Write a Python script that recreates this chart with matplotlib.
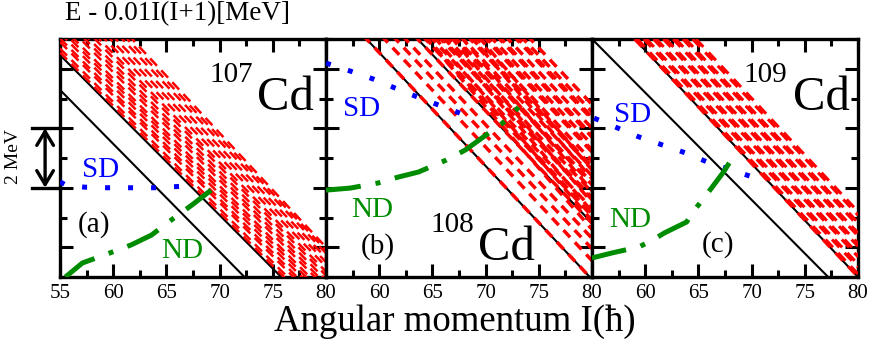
import matplotlib.pyplot as plt
from matplotlib import font_manager
from matplotlib.ticker import MultipleLocator
from matplotlib.transforms import blended_transform_factory

# pick a Times-like font if one is installed
serif = 'DejaVu Serif'
for nome in ['Liberation Serif', 'Times New Roman', 'Nimbus Roman', 'Tinos', 'FreeSerif']:
    try:
        font_manager.findfont(font_manager.FontProperties(family=nome), fallback_to_default=False)
        serif = nome
        break
    except ValueError:
        pass
plt.rcParams['font.family'] = [serif, 'DejaVu Serif']

# axis ranges and ticks
x_min, x_max = 55, 80
y_min, y_max = -1, 7
x_ticks = [55, 60, 65, 70, 75, 80]

# straight bands: energy at I=55 and at I=80
black_a_e55 = [5.29, 6.46]
black_a_e80 = [-3.78, -2.51]
red_a_e55 = [6.55, 6.68, 6.9, 7.02, 7.2, 7.35, 7.48, 7.7, 7.85, 8.0, 8.2, 8.35, 8.55, 8.75, 8.95, 9.2, 9.4, 9.6]
red_a_e80 = [-2.42, -2.3, -2.1, -1.98, -1.82, -1.68, -1.55, -1.38, -1.25, -1.1, -0.95, -0.82, -0.65, -0.5, -0.35, -0.2, -0.1, 0.0]

black_b_e55 = [8.45, 10.25]
black_b_e80 = [-1.08, 0.81]
red_b_e55 = [8.45, 9.1, 9.5, 9.85, 10.25, 10.55, 10.62, 10.8, 10.9, 11.1, 11.17, 11.3, 11.35, 11.6, 11.67, 11.7,
             11.9, 12.0, 12.15, 12.22, 12.4, 12.4, 12.7, 12.77, 12.8, 12.95, 13.1, 13.2, 13.27, 13.5, 13.8,
             13.87, 14.05, 14.3]
red_b_e80 = [-1.08, -0.45, -0.05, 0.3, 0.81, 1.05, 1.12, 1.3, 0.6, 1.6, 1.67, 0.9, 1.85, 2.1, 2.17, 1.2,
             2.4, 1.5, 2.65, 2.72, 2.9, 1.9, 3.2, 3.27, 2.3, 3.45, 2.6, 3.7, 3.77, 4.0, 4.3,
             4.37, 4.55, 4.8]

black_c_e55 = [7.0, 8.52]
black_c_e80 = [-2.01, -1.0]
red_c_e55 = [8.52, 8.62, 8.85, 8.95, 9.2, 9.3, 9.55, 9.65, 9.9, 10.0, 10.25, 10.35, 10.6, 10.72]
red_c_e80 = [-1.0, -0.9, -0.67, -0.57, -0.32, -0.22, 0.03, 0.13, 0.38, 0.48, 0.73, 0.83, 1.08, 1.2]

# superdeformed (SD) and normal deformed (ND) bands
sd_a_i = [55.0, 55.5, 57.3, 59.5, 61.7, 64.0, 66.5]
sd_a_e = [2.2, 2.1, 2.02, 2.0, 2.0, 2.0, 2.05]
nd_a_i = [55.5, 55.75, 57.1, 59.7, 61.7, 63.6, 65.7, 67.4, 69.2]
nd_a_e = [-1.0, -0.93, -0.53, -0.19, 0.08, 0.41, 0.98, 1.42, 1.92]

sd_b_i = [55.0, 57.3, 59.4, 61.5, 63.6, 65.8, 67.8]
sd_b_e = [6.19, 5.92, 5.66, 5.35, 5.05, 4.75, 4.48]
nd_b_i = [55.0, 57.3, 59.9, 61.8, 63.7, 66.3, 68.1, 69.8, 72.0, 73.1]
nd_b_e = [1.92, 1.99, 2.16, 2.36, 2.53, 2.93, 3.27, 3.71, 4.28, 4.71]

sd_c_i = [55.2, 57.4, 59.4, 61.6, 63.8, 65.8, 68.1, 70.1]
sd_c_e = [4.34, 4.01, 3.71, 3.44, 3.17, 2.87, 2.60, 2.36]
nd_c_i = [55.0, 56.9, 59.4, 60.7, 61.8, 63.9, 64.4, 65.6, 67.3, 68.2]
nd_c_e = [-0.36, -0.19, 0.01, 0.24, 0.48, 0.85, 1.15, 1.69, 2.50, 3.0]

nuclei = ['107', '108', '109']
panel_tags = ['(a)', '(b)', '(c)']

RED = '#ff0000'
BLUE = '#0000ff'
GREEN = '#008c00'

fig, axes = plt.subplots(1, 3, figsize=(8.72, 3.46), dpi=100, sharey=True)
fig.subplots_adjust(left=60 / 872, right=858 / 872, bottom=69 / 346, top=307 / 346, wspace=0)

pannelli = [
    (black_a_e55, black_a_e80, red_a_e55, red_a_e80, sd_a_i, sd_a_e, nd_a_i, nd_a_e, (4, 2.5), 1.8),
    (black_b_e55, black_b_e80, red_b_e55, red_b_e80, sd_b_i, sd_b_e, nd_b_i, nd_b_e, (2.8, 2), 2.5),
    (black_c_e55, black_c_e80, red_c_e55, red_c_e80, sd_c_i, sd_c_e, nd_c_i, nd_c_e, (3.5, 2.5), 2.2),
]

for k, (ax, dati) in enumerate(zip(axes, pannelli)):
    b55, b80, r55, r80, sdi, sde, ndi, nde, trattini, lw_rosso = dati

    # black solid lines
    for e0, e1 in zip(b55, b80):
        ax.plot([x_min, x_max], [e0, e1], color='black', lw=1.5, zorder=2)
    # red dashed lines
    for e0, e1 in zip(r55, r80):
        ax.plot([x_min, x_max], [e0, e1], color=RED, lw=lw_rosso, dashes=trattini,
                dash_capstyle='butt', zorder=3)
    # SD dotted
    ax.plot(sdi, sde, color=BLUE, lw=3.6, dashes=(1, 3.6), dash_capstyle='butt', zorder=4)
    # ND dash-dot
    ax.plot(ndi, nde, color=GREEN, lw=3.6, dashes=(7, 3, 1, 3), dash_capstyle='butt', zorder=5)

    ax.set_xlim(x_min, x_max)
    ax.set_ylim(y_min, y_max)
    etichette = [str(t) for t in x_ticks]
    if k > 0:
        etichette[0] = ''
    ax.set_xticks(x_ticks, etichette)
    ax.xaxis.set_minor_locator(MultipleLocator(2.5))
    ax.yaxis.set_major_locator(MultipleLocator(2))
    ax.yaxis.set_minor_locator(MultipleLocator(1))
    ax.tick_params(which='both', direction='in', top=True, right=True, width=2.2,
                   labelleft=False, labelsize=15, pad=5)
    ax.tick_params(which='major', length=9.5)
    ax.tick_params(which='minor', length=5)
    for s in ax.spines.values():
        s.set_linewidth(2.4)

# labels inside panels
ax1, ax2, ax3 = axes
ax1.text(57.05, 2.36, 'SD', color=BLUE, fontsize=21)
ax1.text(64.5, -0.36, 'ND', color=GREEN, fontsize=21)
ax1.text(56.7, 0.51, panel_tags[0], fontsize=21)
ax1.text(69.0, 5.55, nuclei[0], fontsize=21)
ax1.text(73.5, 4.61, 'Cd', fontsize=35)

ax2.text(56.6, 4.41, 'SD', color=BLUE, fontsize=21)
ax2.text(57.4, 1.02, 'ND', color=GREEN, fontsize=21)
ax2.text(58.3, -0.23, panel_tags[1], fontsize=21)
ax2.text(64.8, 0.51, nuclei[1], fontsize=21)
ax2.text(69.3, -0.43, 'Cd', fontsize=35)

ax3.text(57.1, 4.21, 'SD', color=BLUE, fontsize=21)
ax3.text(56.6, 0.68, 'ND', color=GREEN, fontsize=21)
ax3.text(65.3, -0.16, panel_tags[2], fontsize=21)
ax3.text(69.2, 5.55, nuclei[2], fontsize=21)
ax3.text(73.9, 4.61, 'Cd', fontsize=35)

# 2 MeV scale arrow on the left
trans = blended_transform_factory(ax1.transAxes, ax1.transData)
for e in (2, 4):
    ax1.plot([-0.105, 0], [e, e], color='black', lw=2.4, transform=trans, clip_on=False)
ax1.annotate('', xy=(-0.056, 4), xytext=(-0.056, 2), xycoords=trans, textcoords=trans,
             arrowprops=dict(arrowstyle='<->,head_length=0.5,head_width=0.3', lw=2.4,
                             color='black', shrinkA=0, shrinkB=0, mutation_scale=20),
             annotation_clip=False)
fig.text(13 / 872, 1 - 157 / 346, '2 MeV', rotation=90, fontsize=14, ha='center', va='center')

fig.text(65 / 872, 1 - 14 / 346, 'E - 0.01I(I+1)[MeV]', fontsize=19.5, ha='left', va='center')
fig.text(455 / 872, 1 - 322 / 346, 'Angular momentum I(ħ)', fontsize=26.5, ha='center', va='center')

fig.savefig('out.png', dpi=100)
